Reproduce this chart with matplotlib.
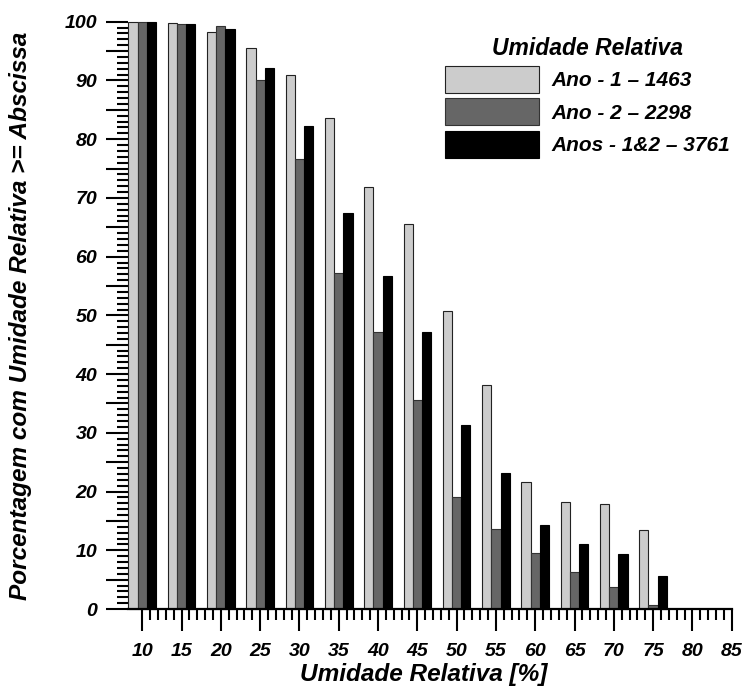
import matplotlib
matplotlib.use("Agg")
import matplotlib.pyplot as plt
import numpy as np

# umidade relativa (limite inferior, %)
umidade = [10, 15, 20, 25, 30, 35, 40, 45, 50, 55, 60, 65, 70, 75, 80, 85]
ano1 = [100, 99.8, 98.2, 95.5, 90.9, 83.6, 71.8, 65.5, 50.7, 38.1, 21.6, 18.3, 17.9, 13.4, 0, 0]
ano2 = [99.95, 99.6, 99.2, 90.1, 76.7, 57.2, 47.1, 35.6, 19.1, 13.6, 9.5, 6.35, 3.8, 0.7, 0, 0]
anos12 = [100, 99.6, 98.8, 92.2, 82.2, 67.5, 56.7, 47.2, 31.3, 23.2, 14.3, 11.0, 9.3, 5.6, 0, 0]
legendas = ["Ano - 1 \u2013 1463", "Ano - 2 \u2013 2298", "Anos - 1&2 \u2013 3761"]
cores = ["#cccccc", "#666666", "#000000"]
bordas = ["#222222", "#333333", "#000000"]

plt.rcParams["font.family"] = ["Liberation Sans", "DejaVu Sans"]
plt.rcParams["font.weight"] = "bold"
plt.rcParams["font.style"] = "italic"

fig = plt.figure(figsize=(7.47, 6.88), dpi=100)
ax = fig.add_axes([0.172, 0.1148, 0.8075, 0.8536])

x = np.array(umidade, dtype=float)
w = 1.17
for i, serie in enumerate([ano1, ano2, anos12]):
    s = np.array(serie, dtype=float)
    m = s > 0  # sem barras de altura zero
    ax.bar(x[m] + (i - 1) * w, s[m], width=w, color=cores[i], edgecolor=bordas[i],
           linewidth=0.8, label=legendas[i], clip_on=False, zorder=2)

ax.set_xlim(8.25, 85)
ax.set_ylim(0, 100)

for sp in ["top", "right", "left"]:
    ax.spines[sp].set_visible(False)
ax.spines["bottom"].set_linewidth(1.6)

ax.set_xticks(umidade)
ax.set_xticklabels([str(v) for v in umidade])
ax.set_xticks([v for v in range(11, 85) if v % 5 != 0], minor=True)
yt = list(range(0, 101, 5))
ax.set_yticks(yt)
ax.set_yticklabels([str(v) if v % 10 == 0 else "" for v in yt])
ax.set_yticks([v for v in range(1, 100) if v % 5 != 0], minor=True)

ax.tick_params(axis="both", which="major", length=15.5, width=1.5, labelsize=14)
ax.tick_params(axis="both", which="minor", length=8, width=1.5)
ax.tick_params(axis="y", which="major", pad=7)
ax.tick_params(axis="x", which="major", pad=9)

ax.set_xlabel("Umidade Relativa [%]", fontsize=17.6, fontweight="bold", style="italic")
ax.xaxis.set_label_coords(0.49, -0.092)
ax.set_ylabel("Porcentagem com Umidade Relativa >= Abscissa", fontsize=17.6,
              fontweight="bold", style="italic")
ax.yaxis.set_label_coords(-0.16, 0.5)

leg = ax.legend(loc="upper left", bbox_to_anchor=(445 / 747, 1 - 37 / 688),
                bbox_transform=fig.transFigure, frameon=False, fontsize=15,
                title="Umidade Relativa", handlelength=4.5, handleheight=1.6,
                labelspacing=0.28, handletextpad=0.6, borderpad=0, borderaxespad=0)
leg.get_title().set_fontsize(16.5)
leg.get_title().set_fontweight("bold")
leg.get_title().set_fontstyle("italic")

fig.savefig("out.png", dpi=100)
